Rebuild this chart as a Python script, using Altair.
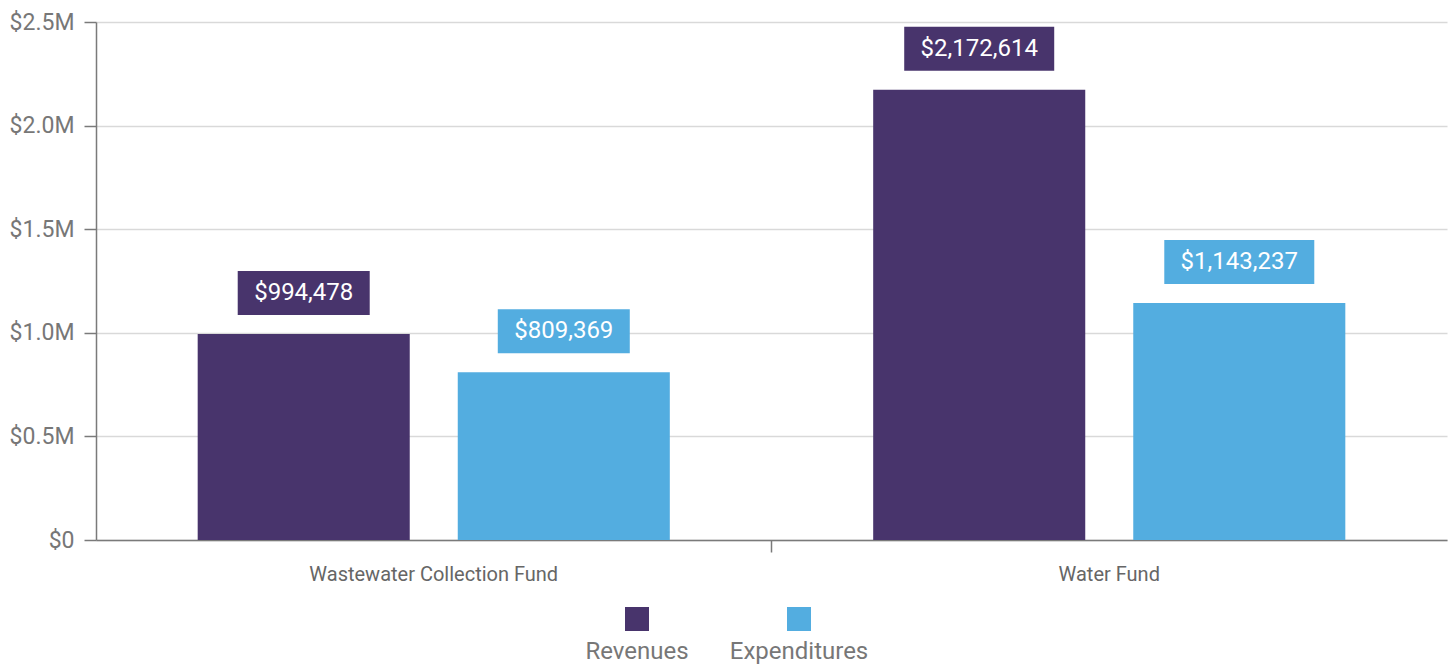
import altair as alt
import pandas as pd

funds = ["Wastewater Collection Fund", "Water Fund"]
series = ["Revenues", "Expenditures"]
revenues = [994478, 2172614]
expenditures = [809369, 1143237]
colors = ["#48346c", "#53ade0"]
y_ticks = [0, 500000, 1000000, 1500000, 2000000, 2500000]

rows = []
for i, f in enumerate(funds):
    rows.append({"fund": f, "series": series[0], "value": revenues[i]})
    rows.append({"fund": f, "series": series[1], "value": expenditures[i]})
df = pd.DataFrame(rows)

FONT = "Roboto"

x = alt.X(
    "fund:N", sort=funds, title=None,
    scale=alt.Scale(paddingInner=0, paddingOuter=0),
    axis=alt.Axis(bandPosition=0, labelAngle=0, labelFontSize=20, labelColor="#666666",
                  labelFont=FONT, labelLimit=0, domainColor="#7a7a7a", tickColor="#7a7a7a",
                  tickOpacity={"condition": {"test": "datum.value === '" + funds[0] + "'", "value": 0},
                               "value": 1},
                  tickSize=12, labelPadding=12, domainWidth=1.5, tickWidth=1.5, grid=False),
)
xo = alt.XOffset("series:N", sort=series,
                 scale=alt.Scale(paddingInner=0.1846, paddingOuter=0.391))
y = alt.Y(
    "value:Q", title=None,
    scale=alt.Scale(domain=[0, 2500000], nice=False),
    axis=alt.Axis(values=y_ticks,
                  labelExpr="datum.value == 0 ? '$0' : '$' + format(datum.value / 1000000, '.1f') + 'M'",
                  labelFontSize=23, labelColor="#777777", labelFont=FONT,
                  domainColor="#7a7a7a", tickColor="#7a7a7a", tickSize=12, labelPadding=10,
                  domainWidth=1.5, tickWidth=1.5, gridColor="#d9d9d9", gridWidth=1.5),
)
color = alt.Color("series:N", sort=series,
                  scale=alt.Scale(domain=series, range=colors), legend=None)

base = alt.Chart(df)
bars = base.mark_bar().encode(x=x, xOffset=xo, y=y, color=color)
short_boxes = base.transform_filter("datum.value < 1000000").mark_rect(
    width=132, height=44, yOffset=-41).encode(x=x, xOffset=xo, y=y, color=color)
long_boxes = base.transform_filter("datum.value >= 1000000").mark_rect(
    width=150, height=44, yOffset=-41).encode(x=x, xOffset=xo, y=y, color=color)
labels = base.mark_text(color="white", fontSize=24, font=FONT, yOffset=-41,
                        baseline="middle").encode(
    x=x, xOffset=xo, y=y, text=alt.Text("value:Q", format="$,.0f"))

main = alt.layer(bars, short_boxes, long_boxes, labels).properties(width=1351, height=518)

leg_df = pd.DataFrame({"series": series})
legx = alt.X("series:N", sort=series, axis=None,
             scale=alt.Scale(type="point", padding=0, range=[541, 703]))
sq = alt.Chart(leg_df).mark_square(size=576, opacity=1, filled=True).encode(
    x=legx, y=alt.value(17), color=color)
lt = alt.Chart(leg_df).mark_text(fontSize=24, color="#777777", font=FONT,
                                 baseline="middle").encode(
    x=legx, y=alt.value(50), text="series:N")
legend = alt.layer(sq, lt).properties(width=1351, height=60)

chart = alt.vconcat(main, legend, spacing=18).resolve_scale(
    x="independent").properties(
    padding={"left": 9, "top": 11, "right": 6, "bottom": 3}
).configure_view(strokeWidth=0)

chart.save("out.html", embed_options={"renderer": "svg", "actions": False})
